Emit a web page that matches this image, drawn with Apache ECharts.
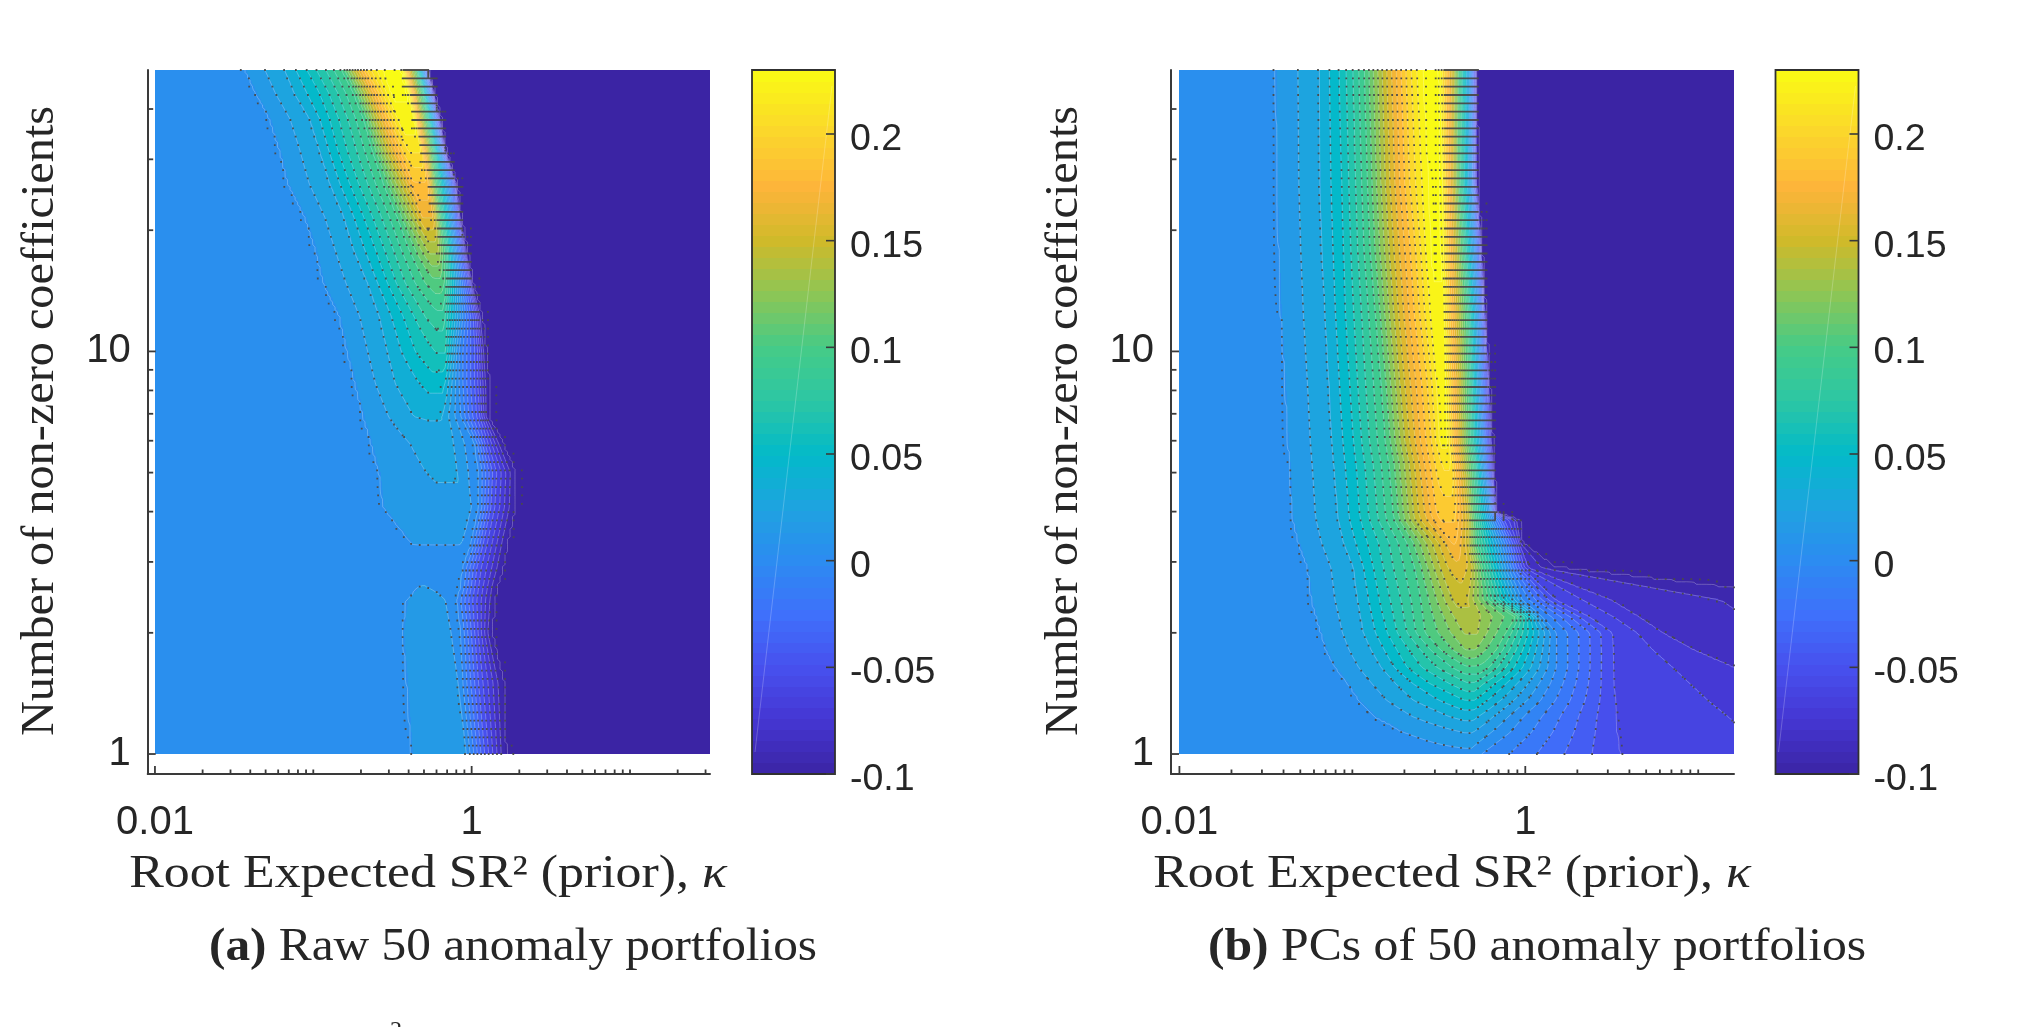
<!DOCTYPE html>
<html>
<head>
<meta charset="utf-8">
<title>Out-of-sample R-squared surfaces</title>
<script src="https://cdn.jsdelivr.net/npm/echarts@6/dist/echarts.min.js"></script>
<style>html,body{margin:0;padding:0;background:#fff}#chart{width:2032px;height:1027px;overflow:hidden}</style>
</head>
<body>
<div id="chart"></div>
<script>
// Contour levels of the surface and the colour scale shared by both panels.
const contourStart = -0.1;
const contourStep = 0.011;
const contourCount = 31;
const colorMin = -0.1;
const colorMax = 0.23;
const colorStops = [
  [-0.1, '#3b24a4'], [-0.075, '#4536d2'], [-0.05, '#4750ee'], [-0.025, '#3f70fb'],
  [0, '#2c8bf1'], [0.025, '#1fa3e0'], [0.05, '#02bac9'], [0.075, '#2cc6a4'],
  [0.1, '#45cb87'], [0.125, '#8cc656'], [0.15, '#cfba2a'], [0.175, '#fdb43a'],
  [0.2, '#fbd52c'], [0.23, '#f9fb14']
];
const colorbarTicks = [-0.1, -0.05, 0, 0.05, 0.1, 0.15, 0.2];
const kappaLabels = [0.01, 1];
const nonZeroLabels = [1, 10];
const kappaMinorTicks = [0.02,0.03,0.04,0.05,0.06,0.07,0.08,0.09,0.1,0.2,0.3,0.4,0.5,0.6,0.7,0.8,0.9,2,3,4,5,6,7,8,9,10,20,30];
const nonZeroMinorTicks = [2,3,4,5,6,7,8,9,20,30,40];

// Panel (a): each row lists log10(kappa) where the surface passes the knot levels.
const knotLevelsA = [0.01,0.032,0.054,0.076,0.098,0.15,0.2,9,9,0.15,0.098,0,-0.05,-0.1];
const rowNonZeroA = [50,43.8,37.6,31.6,26.1,21.6,17.9,14.8,12.2,10,8.3,6.9,5.9,5,4.1,3.3,2.9,2.6,2.41,2,1.5,1];
const rowPeakA = [0.231,0.231,0.228,0.21,0.185,0.165,0.135,0.105,0.083,0.066,0.047,0.033,0.027,0.023,0.016,0.01,0.003,0.0105,0.015,0.016,0.016,0.016];
const rowKappaExpA = [
  [-1.43,-1.18,-1.04,-0.92,-0.82,-0.74,-0.66,-0.56,-0.445,-0.395,-0.35,-0.30,-0.282,-0.277],
  [-1.36,-1.12,-0.96,-0.845,-0.745,-0.66,-0.58,-0.51,-0.407,-0.357,-0.312,-0.27,-0.25,-0.237],
  [-1.27,-1.02,-0.895,-0.78,-0.68,-0.595,-0.51,-0.445,-0.37,-0.32,-0.282,-0.232,-0.212,-0.195],
  [-1.21,-0.96,-0.845,-0.727,-0.627,-0.53,-0.432,-0.395,-0.32,-0.282,-0.245,-0.195,-0.177,-0.165],
  [-1.157,-0.895,-0.77,-0.657,-0.557,-0.432,-0.37,-0.345,-0.282,-0.257,-0.22,-0.145,-0.112,-0.095],
  [-1.05,-0.807,-0.682,-0.57,-0.47,-0.345,-0.312,-0.302,-0.245,-0.232,-0.195,-0.12,-0.087,-0.07],
  [-0.982,-0.745,-0.607,-0.495,-0.395,-0.27,-0.262,-0.257,-0.22,-0.212,-0.17,-0.095,-0.057,-0.032],
  [-0.932,-0.657,-0.532,-0.42,-0.295,-0.237,-0.235,-0.232,-0.202,-0.195,-0.17,-0.07,-0.02,0.005],
  [-0.832,-0.582,-0.432,-0.295,-0.22,-0.217,-0.215,-0.212,-0.182,-0.18,-0.178,-0.057,0.018,0.063],
  [-0.782,-0.532,-0.357,-0.22,-0.207,-0.205,-0.203,-0.2,-0.17,-0.168,-0.166,-0.082,0.03,0.088],
  [-0.732,-0.482,-0.27,-0.265,-0.263,-0.26,-0.258,-0.257,-0.182,-0.18,-0.178,-0.082,0.03,0.105],
  [-0.682,-0.37,-0.27,-0.268,-0.266,-0.262,-0.26,-0.257,-0.195,-0.193,-0.19,-0.07,0.043,0.105],
  [-0.632,-0.257,-0.255,-0.253,-0.25,-0.248,-0.246,-0.244,-0.157,-0.155,-0.153,0.018,0.093,0.193],
  [-0.582,-0.232,-0.23,-0.228,-0.226,-0.224,-0.222,-0.22,-0.107,-0.105,-0.103,0.043,0.143,0.273],
  [-0.557,-0.207,-0.205,-0.203,-0.2,-0.198,-0.196,-0.194,-0.032,-0.03,-0.028,0.043,0.13,0.268],
  [-0.37,-0.345,-0.343,-0.34,-0.338,-0.336,-0.334,-0.332,-0.07,-0.068,-0.066,-0.007,0.08,0.218],
  [-0.32,-0.318,-0.316,-0.314,-0.312,-0.31,-0.308,-0.306,-0.257,-0.255,-0.253,-0.057,0.043,0.193],
  [-0.332,-0.318,-0.316,-0.314,-0.312,-0.31,-0.308,-0.306,-0.3,-0.298,-0.296,-0.07,0.03,0.155],
  [-0.407,-0.32,-0.318,-0.316,-0.314,-0.312,-0.31,-0.308,-0.207,-0.205,-0.203,-0.095,0.018,0.143],
  [-0.432,-0.295,-0.293,-0.291,-0.289,-0.287,-0.285,-0.283,-0.17,-0.168,-0.166,-0.07,0.03,0.123],
  [-0.407,-0.257,-0.255,-0.253,-0.251,-0.249,-0.247,-0.245,-0.107,-0.105,-0.103,-0.057,0.055,0.198],
  [-0.377,-0.22,-0.218,-0.216,-0.214,-0.212,-0.21,-0.208,-0.05,-0.048,-0.046,-0.012,0.093,0.213]
];

// Panel (b): same layout, with extra knots for the long fade towards high kappa.
const knotLevelsB = [0.01,0.032,0.054,0.076,0.098,0.15,0.2,9,9,0.15,0.098,0,-0.056,-0.078,-0.1];
const rowNonZeroB = [50,26.1,17.9,12.4,8.3,6,5.2,3.97,3.81,3.34,2.9,2.41,2.19,2,1.81,1.64,1.5,1.36,1.24,1.13,1];
const rowPeakB = [0.231,0.231,0.231,0.229,0.225,0.223,0.21,0.19,0.187,0.176,0.16,0.145,0.138,0.132,0.12,0.096,0.075,0.054,0.036,0.021,0.006];
const rowKappaExpB = [
  [-1.44,-1.19,-1.076,-0.996,-0.93,-0.809,-0.683,-0.592,-0.5,-0.425,-0.386,-0.318,-0.295,-0.288,-0.283],
  [-1.433,-1.186,-1.061,-0.98,-0.912,-0.791,-0.661,-0.558,-0.489,-0.42,-0.382,-0.313,-0.293,-0.286,-0.279],
  [-1.422,-1.175,-1.049,-0.969,-0.896,-0.768,-0.626,-0.546,-0.485,-0.409,-0.363,-0.295,-0.265,-0.258,-0.254],
  [-1.41,-1.157,-1.038,-0.946,-0.866,-0.741,-0.603,-0.523,-0.478,-0.398,-0.341,-0.272,-0.242,-0.238,-0.233],
  [-1.385,-1.134,-1.015,-0.923,-0.832,-0.706,-0.558,-0.5,-0.466,-0.386,-0.329,-0.261,-0.226,-0.215,-0.21],
  [-1.369,-1.118,-0.992,-0.901,-0.809,-0.677,-0.535,-0.489,-0.455,-0.38,-0.325,-0.249,-0.215,-0.201,-0.192],
  [-1.358,-1.106,-0.976,-0.878,-0.786,-0.649,-0.512,-0.471,-0.432,-0.363,-0.306,-0.238,-0.203,-0.192,-0.185],
  [-1.346,-1.083,-0.958,-0.855,-0.763,-0.626,-0.5,-0.462,-0.409,-0.34,-0.295,-0.203,-0.18,-0.173,-0.169],
  [-1.339,-1.079,-0.951,-0.848,-0.756,-0.615,-0.489,-0.457,-0.407,-0.338,-0.29,-0.192,-0.123,-0.066,-0.036],
  [-1.307,-1.049,-0.912,-0.786,-0.683,-0.512,-0.42,-0.416,-0.402,-0.34,-0.283,-0.135,-0.059,-0.036,-0.02],
  [-1.255,-0.992,-0.878,-0.763,-0.638,-0.466,-0.398,-0.393,-0.382,-0.318,-0.249,-0.1,-0.02,0.014,0.174],
  [-1.232,-0.969,-0.843,-0.718,-0.603,-0.409,-0.363,-0.356,-0.347,-0.34,-0.215,-0.02,0.174,0.494,1.774],
  [-1.205,-0.951,-0.821,-0.702,-0.592,-0.375,-0.352,-0.334,-0.306,-0.302,-0.055,0.094,0.368,0.654,1.888],
  [-1.179,-0.935,-0.798,-0.683,-0.58,-0.352,-0.341,-0.318,-0.283,-0.279,-0.112,0.174,0.501,0.791,2.002],
  [-1.147,-0.889,-0.741,-0.603,-0.489,-0.347,-0.341,-0.334,-0.295,-0.29,-0.169,0.174,0.505,0.974,2.917],
  [-1.095,-0.832,-0.683,-0.512,-0.352,-0.341,-0.336,-0.329,-0.295,-0.29,-0.249,0.174,0.505,1.202,4.745],
  [-1.026,-0.752,-0.558,-0.341,-0.338,-0.336,-0.333,-0.329,-0.302,-0.3,-0.295,0.14,0.512,1.385,4.745],
  [-0.958,-0.649,-0.352,-0.347,-0.345,-0.343,-0.338,-0.329,-0.306,-0.302,-0.295,0.082,0.517,1.593,4.745],
  [-0.866,-0.443,-0.352,-0.347,-0.343,-0.338,-0.334,-0.329,-0.311,-0.306,-0.302,-0.018,0.521,1.82,5.2],
  [-0.695,-0.352,-0.347,-0.343,-0.338,-0.334,-0.331,-0.329,-0.318,-0.313,-0.306,-0.1,0.528,2.012,5.888],
  [-0.512,-0.347,-0.343,-0.341,-0.338,-0.336,-0.334,-0.329,-0.318,-0.315,-0.313,-0.267,0.546,2.766,5.888]
];

const backgroundValue = 0.004;
const farValue = -0.105;
const axisColor = '#3a3a3a';
const textColor = '#262626';
const sansFont = '"Liberation Sans", Arial, sans-serif';
const serifFont = '"Liberation Serif", "DejaVu Serif", serif';

const panels = [
  { rowN: rowNonZeroA, peak: rowPeakA, exps: rowKappaExpA, levels: knotLevelsA,
    grid: { left: 147.7, top: 70, width: 562.3, height: 704 }, xMin: 0.009, xMax: 32,
    bar: { left: 752, top: 70, width: 83, height: 704 } },
  { rowN: rowNonZeroB, peak: rowPeakB, exps: rowKappaExpB, levels: knotLevelsB,
    grid: { left: 1171, top: 70, width: 563, height: 704 }, xMin: 0.00894, xMax: 16.1,
    bar: { left: 1775.5, top: 70, width: 83, height: 704 } }
];
const yMin = 0.892, yMax = 50;

function hexToRgb(h) { return [1, 3, 5].map(i => parseInt(h.substr(i, 2), 16)); }
function colorAt(v) {
  if (v <= colorStops[0][0]) return colorStops[0][1];
  for (let i = 1; i < colorStops.length; i++) {
    if (v <= colorStops[i][0]) {
      const a = colorStops[i - 1], b = colorStops[i];
      const t = (v - a[0]) / (b[0] - a[0]);
      const ca = hexToRgb(a[1]), cb = hexToRgb(b[1]);
      return 'rgb(' + ca.map((c, k) => Math.round(c + (cb[k] - c) * t)).join(',') + ')';
    }
  }
  return colorStops[colorStops.length - 1][1];
}
const bandColors = [];
for (let k = 0; k < contourCount; k++) bandColors.push(colorAt(contourStart + (k + 0.5) * contourStep));
const belowColor = colorAt(contourStart);
function bandOf(v) { return v < contourStart ? -1 : Math.min(contourCount - 1, Math.floor((v - contourStart) / contourStep)); }

// Profile of the surface across kappa for one value of the row coordinate.
function profileAt(panel, logN) {
  const logs = panel.rowN.map(Math.log10);
  let j = 0;
  while (j < logs.length - 2 && logN < logs[j + 1]) j++;
  const t = Math.max(0, Math.min(1, (logs[j] - logN) / (logs[j] - logs[j + 1])));
  const xs = [-3], vs = [backgroundValue];
  panel.levels.forEach((lev, i) => {
    xs.push(panel.exps[j][i] + (panel.exps[j + 1][i] - panel.exps[j][i]) * t);
    const a = Math.min(lev, panel.peak[j]), b = Math.min(lev, panel.peak[j + 1]);
    vs.push(a + (b - a) * t);
  });
  xs.push(8); vs.push(farValue);
  return { xs, vs };
}
function valueOn(p, x) {
  const xs = p.xs;
  let i = 1;
  while (i < xs.length - 1 && x > xs[i]) i++;
  const d = xs[i] - xs[i - 1];
  if (d <= 0) return p.vs[i];
  return p.vs[i - 1] + (p.vs[i] - p.vs[i - 1]) * (x - xs[i - 1]) / d;
}
function sampleGrid(panel, cols, rows) {
  const x0 = -2, x1 = Math.log10(panel.xMax), y0 = 0, y1 = Math.log10(yMax);
  const xs = [], ys = [], z = [];
  for (let c = 0; c <= cols; c++) xs.push(x0 + (x1 - x0) * c / cols);
  for (let r = 0; r <= rows; r++) {
    const y = y0 + (y1 - y0) * r / rows;
    ys.push(y);
    const p = profileAt(panel, y);
    z.push(xs.map(x => valueOn(p, x)));
  }
  return { xs, ys, z };
}

// Filled bands are stored as runs of equal colour along each horizontal strip.
function buildRuns(panel) {
  const rows = 456, cols = 556;
  const g = sampleGrid(panel, cols, rows);
  const strips = [];
  for (let r = 0; r < rows; r++) {
    const runs = [];
    const line = g.z[r];
    let start = 0, band = bandOf(line[0]);
    for (let c = 1; c <= cols; c++) {
      const b = c === cols ? null : bandOf(line[c]);
      if (b !== band) { runs.push([g.xs[start], g.xs[c], band]); start = c; band = b; }
    }
    strips.push({ lo: g.ys[r], hi: g.ys[r + 1], runs });
  }
  return strips;
}

function heatSeries(panel, idx) {
  const strips = buildRuns(panel);
  return {
    type: 'custom', xAxisIndex: idx * 2, yAxisIndex: idx * 2, z: 2, silent: true, clip: false, animation: false,
    data: strips.map((s, i) => [Math.pow(10, s.runs[0][0]), Math.pow(10, s.lo), i]),
    renderItem(params, api) {
      const s = strips[api.value(2)];
      const top = Math.round(api.coord([1, Math.pow(10, s.hi)])[1]);
      const bottom = Math.round(api.coord([1, Math.pow(10, s.lo)])[1]);
      if (bottom <= top) return null;
      return {
        type: 'group',
        children: s.runs.map(run => {
          const a = Math.round(api.coord([Math.pow(10, run[0]), 1])[0]);
          const b = Math.round(api.coord([Math.pow(10, run[1]), 1])[0]);
          return {
            type: 'rect', silent: true,
            shape: { x: a, y: top, width: Math.max(0, b - a), height: bottom - top },
            style: { fill: run[2] < 0 ? belowColor : bandColors[run[2]] }
          };
        })
      };
    }
  };
}

// Contour lines: a pale hairline for each level with dark markers on the coarse mesh.
function contourSeries(panel, idx) {
  const fine = sampleGrid(panel, 222, 274);
  const mesh = sampleGrid(panel, 65, 82);
  return {
    type: 'custom', xAxisIndex: idx * 2, yAxisIndex: idx * 2, z: 3, silent: true, clip: false, animation: false,
    data: [[1, 1]],
    renderItem(params, api) {
      const px = (x, y) => api.coord([Math.pow(10, x), Math.pow(10, y)]);
      let lines = '', dots = '';
      for (let k = 0; k < contourCount; k++) {
        const L = contourStart + k * contourStep;
        const { xs, ys, z } = fine;
        for (let r = 0; r < ys.length - 1; r++) {
          for (let c = 0; c < xs.length - 1; c++) {
            const a = z[r][c], b = z[r][c + 1], d = z[r + 1][c], e = z[r + 1][c + 1];
            const pts = [];
            if ((a < L) !== (b < L)) pts.push([xs[c] + (xs[c + 1] - xs[c]) * (L - a) / (b - a), ys[r]]);
            if ((d < L) !== (e < L)) pts.push([xs[c] + (xs[c + 1] - xs[c]) * (L - d) / (e - d), ys[r + 1]]);
            if ((a < L) !== (d < L)) pts.push([xs[c], ys[r] + (ys[r + 1] - ys[r]) * (L - a) / (d - a)]);
            if ((b < L) !== (e < L)) pts.push([xs[c + 1], ys[r] + (ys[r + 1] - ys[r]) * (L - b) / (e - b)]);
            if (pts.length >= 2) {
              const p = px(pts[0][0], pts[0][1]), q = px(pts[1][0], pts[1][1]);
              lines += 'M' + p[0].toFixed(1) + ' ' + p[1].toFixed(1) + 'L' + q[0].toFixed(1) + ' ' + q[1].toFixed(1);
            }
          }
        }
        // Markers use the mesh direction that cuts the contour most squarely; diagonal runs get both.
        const m = mesh;
        const mark = (x, y) => {
          const p = px(x, y);
          dots += 'M' + (p[0] - 0.9).toFixed(1) + ' ' + (p[1] - 0.9).toFixed(1) + 'h1.8v1.8h-1.8z';
        };
        const nr = m.ys.length, nc = m.xs.length;
        for (let r = 0; r < nr; r++) {
          for (let c = 0; c < nc; c++) {
            const a = m.z[r][c];
            const rn = r < nr - 1 ? r + 1 : r - 1;
            const cn = c < nc - 1 ? c + 1 : c - 1;
            const gx = Math.abs(m.z[r][cn] - a), gy = Math.abs(m.z[rn][c] - a);
            if (c < nc - 1) {
              const b = m.z[r][c + 1];
              if ((a < L) !== (b < L) && gx >= 0.7 * gy) mark(m.xs[c] + (m.xs[c + 1] - m.xs[c]) * (L - a) / (b - a), m.ys[r]);
            }
            if (r < nr - 1) {
              const d = m.z[r + 1][c];
              if ((a < L) !== (d < L) && gy > 0.7 * gx) mark(m.xs[c], m.ys[r] + (m.ys[r + 1] - m.ys[r]) * (L - a) / (d - a));
            }
          }
        }
      }
      return {
        type: 'group',
        children: [
          { type: 'path', silent: true, shape: { pathData: lines }, style: { fill: null, stroke: 'rgba(255,255,255,0.32)', lineWidth: 0.8 } },
          { type: 'path', silent: true, shape: { pathData: dots }, style: { fill: 'rgba(74,74,74,0.95)', stroke: null } }
        ]
      };
    }
  };
}

// Logarithmic tick marks drawn inward from the two axis lines.
function tickSeries(panel, idx) {
  const ticks = [];
  kappaLabels.forEach(v => ticks.push(['x', v, 8]));
  kappaMinorTicks.filter(v => v <= panel.xMax).forEach(v => ticks.push(['x', v, 4.5]));
  nonZeroLabels.forEach(v => ticks.push(['y', v, 8]));
  nonZeroMinorTicks.forEach(v => ticks.push(['y', v, 5.5]));
  return {
    type: 'custom', xAxisIndex: idx * 2, yAxisIndex: idx * 2, z: 5, silent: true, clip: false, animation: false,
    data: [[1, 1]],
    renderItem(params, api) {
      return {
        type: 'group',
        children: ticks.map(t => {
          const p = t[0] === 'x' ? api.coord([t[1], yMin]) : api.coord([panel.xMin, t[1]]);
          const shape = t[0] === 'x'
            ? { x1: p[0], y1: p[1], x2: p[0], y2: p[1] - t[2] }
            : { x1: p[0], y1: p[1], x2: p[0] + t[2], y2: p[1] };
          return { type: 'line', silent: true, shape, style: { stroke: axisColor, lineWidth: 1.8 } };
        })
      };
    }
  };
}

// Colour bar: stacked swatches, inward ticks on the right, a thin frame and a faint diagonal seam.
function barSeries(idx) {
  const steps = 64;
  const data = [];
  for (let i = 0; i < steps; i++) {
    const lo = colorMin + (colorMax - colorMin) * i / steps;
    const hi = colorMin + (colorMax - colorMin) * (i + 1) / steps;
    data.push([lo, hi, colorAt((lo + hi) / 2)]);
  }
  const ax = idx * 2 + 1;
  return [{
    type: 'custom', xAxisIndex: ax, yAxisIndex: ax, z: 2, silent: true, clip: false, animation: false,
    data: data.map((d, i) => [0, d[0], i]),
    renderItem(params, api) {
      const d = data[api.value(2)];
      const a = api.coord([0, d[0]]), b = api.coord([1, d[1]]);
      return {
        type: 'rect', silent: true,
        shape: { x: a[0], y: Math.floor(b[1]), width: b[0] - a[0], height: Math.ceil(a[1]) - Math.floor(b[1]) },
        style: { fill: d[2] }
      };
    }
  }, {
    type: 'custom', xAxisIndex: ax, yAxisIndex: ax, z: 4, silent: true, clip: false, animation: false,
    data: [[0, colorMin]],
    renderItem(params, api) {
      const a = api.coord([0, colorMin]), b = api.coord([1, colorMax]);
      const tickMarks = colorbarTicks.map(v => {
        const p = api.coord([1, v]);
        return { type: 'line', silent: true, shape: { x1: p[0], y1: p[1], x2: p[0] - 9, y2: p[1] }, style: { stroke: axisColor, lineWidth: 1.6 } };
      });
      return {
        type: 'group',
        children: [
          { type: 'line', silent: true, shape: { x1: a[0] + 3, y1: a[1] - 22, x2: b[0] - 3, y2: b[1] + 16 }, style: { stroke: 'rgba(255,255,255,0.28)', lineWidth: 0.8 } },
          { type: 'rect', silent: true, shape: { x: a[0], y: b[1], width: b[0] - a[0], height: a[1] - b[1] }, style: { fill: null, stroke: '#303030', lineWidth: 1.8 } }
        ].concat(tickMarks)
      };
    }
  }];
}

const grids = [], xAxes = [], yAxes = [], series = [];
panels.forEach((panel, idx) => {
  grids.push({ ...panel.grid, show: false });
  grids.push({ ...panel.bar, show: false });
  const showOnly = allowed => v => {
    const hit = allowed.find(a => Math.abs(v / a - 1) < 1e-6);
    return hit === undefined ? '' : String(hit);
  };
  xAxes.push({
    type: 'log', logBase: 10, gridIndex: idx * 2, min: panel.xMin, max: panel.xMax, position: 'bottom',
    axisLine: { show: true, onZero: false, lineStyle: { color: axisColor, width: 2 } },
    axisTick: { show: false }, minorTick: { show: false }, splitLine: { show: false }, minorSplitLine: { show: false },
    axisLabel: { show: true, margin: 29, color: textColor, fontFamily: sansFont, fontSize: 40, formatter: showOnly(kappaLabels), hideOverlap: false, showMinLabel: true, showMaxLabel: true }
  });
  yAxes.push({
    type: 'log', logBase: 10, gridIndex: idx * 2, min: yMin, max: yMax, position: 'left',
    axisLine: { show: true, onZero: false, lineStyle: { color: axisColor, width: 2 } },
    axisTick: { show: false }, minorTick: { show: false }, splitLine: { show: false }, minorSplitLine: { show: false },
    axisLabel: { show: true, margin: 17, color: textColor, fontFamily: sansFont, fontSize: 40, formatter: showOnly(nonZeroLabels), hideOverlap: false }
  });
  xAxes.push({ type: 'value', gridIndex: idx * 2 + 1, min: 0, max: 1, show: false });
  yAxes.push({
    type: 'value', gridIndex: idx * 2 + 1, min: colorMin, max: colorMax, position: 'right',
    axisLine: { show: false }, splitLine: { show: false }, axisTick: { show: false },
    axisLabel: { show: true, margin: 15, color: textColor, fontFamily: sansFont, fontSize: 37.5, customValues: colorbarTicks, formatter: v => String(+v.toFixed(2)), align: 'left', verticalAlign: 'top', lineHeight: 11 }
  });
  series.push(heatSeries(panel, idx), contourSeries(panel, idx), tickSeries(panel, idx), ...barSeries(idx));
});

function caption(x, y, text, size, stretch, rich) {
  return { type: 'text', x, y, scaleX: stretch, silent: true, style: { text, rich, fill: textColor, fontFamily: serifFont, fontSize: size, align: 'center', verticalAlign: 'middle' } };
}
const kappaRich = { k: { fontStyle: 'italic', fontFamily: serifFont, fontSize: 46, fill: textColor } };
const boldRich = { b: { fontWeight: 'bold', fontFamily: serifFont, fontSize: 46, fill: textColor } };
const graphics = [
  caption(428, 875, 'Root Expected SR² (prior), {k|κ}', 46, 1.127, kappaRich),
  caption(1452, 875, 'Root Expected SR² (prior), {k|κ}', 46, 1.127, kappaRich),
  caption(513, 948, '{b|(a)} Raw 50 anomaly portfolios', 46, 1.072, boldRich),
  caption(1537, 948, '{b|(b)} PCs of 50 anomaly portfolios', 46, 1.08, boldRich),
  Object.assign(caption(41, 421, 'Number of non-zero coefficients', 46, 1.049), { rotation: Math.PI / 2 }),
  Object.assign(caption(1065, 421, 'Number of non-zero coefficients', 46, 1.049), { rotation: Math.PI / 2 }),
  caption(396, 1031, '2', 24, 1)
];

const chart = echarts.init(document.getElementById('chart'), null, { renderer: 'canvas', width: 2032, height: 1027 });
chart.setOption({
  animation: false,
  backgroundColor: '#ffffff',
  grid: grids, xAxis: xAxes, yAxis: yAxes, series,
  graphic: { elements: graphics }
});
</script>
</body>
</html>
